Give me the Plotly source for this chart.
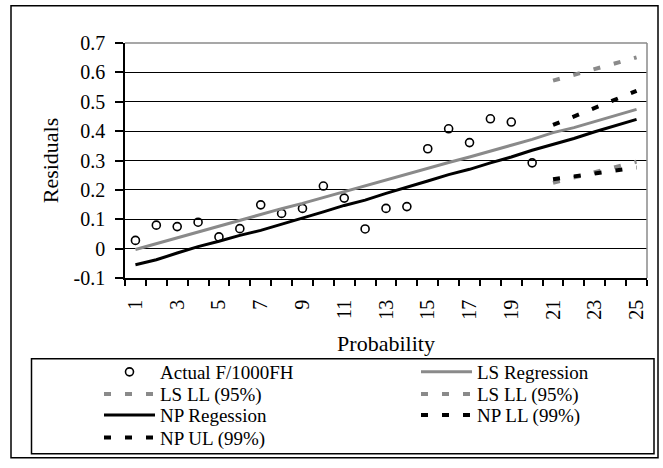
import plotly.graph_objects as go

# ---------------- data ----------------
categories = [1, 2, 3, 4, 5, 6, 7, 8, 9, 10, 11, 12, 13, 14, 15, 16, 17, 18, 19, 20, 21, 22, 23, 24, 25]
actual_categories = [1, 2, 3, 4, 5, 6, 7, 8, 9, 10, 11, 12, 13, 14, 15, 16, 17, 18, 19, 20]
actual_f1000fh = [0.028, 0.080, 0.075, 0.090, 0.040, 0.068, 0.149, 0.120, 0.137, 0.213,
                  0.172, 0.067, 0.137, 0.143, 0.340, 0.408, 0.361, 0.442, 0.431, 0.292]
ls_regression = [-0.003, 0.017, 0.037, 0.058, 0.078, 0.097, 0.116, 0.136, 0.154, 0.174,
                 0.194, 0.214, 0.235, 0.255, 0.274, 0.293, 0.312, 0.331, 0.352, 0.372,
                 0.395, 0.412, 0.432, 0.452, 0.474]
np_regression = [-0.055, -0.038, -0.015, 0.007, 0.025, 0.045, 0.062, 0.083, 0.102, 0.125,
                 0.147, 0.165, 0.188, 0.208, 0.230, 0.252, 0.270, 0.292, 0.312, 0.335,
                 0.355, 0.375, 0.398, 0.418, 0.440]
band_categories = [21, 22, 23, 24, 25]
ls_upper_95 = [0.572, 0.592, 0.612, 0.632, 0.651]
ls_lower_95 = [0.224, 0.242, 0.260, 0.278, 0.296]
np_upper_99 = [0.421, 0.450, 0.479, 0.508, 0.537]
np_lower_99 = [0.236, 0.246, 0.256, 0.266, 0.276]

x_tick_vals = [1, 3, 5, 7, 9, 11, 13, 15, 17, 19, 21, 23, 25]
x_tick_labels = ["1", "3", "5", "7", "9", "11", "13", "15", "17", "19", "21", "23", "25"]
y_tick_vals = [-0.1, 0, 0.1, 0.2, 0.3, 0.4, 0.5, 0.6, 0.7]
y_tick_labels = ["-0.1", "0", "0.1", "0.2", "0.3", "0.4", "0.5", "0.6", "0.7"]

GRAY = "#8a8a8a"
FONT = "Liberation Serif"
DASH = "7px,14px"

L, R, T, B = 125, 16, 43, 185
W, H = 663, 468
pw, ph = W - L - R, H - T - B


def px_x(p):
    return (p - L) / pw


def px_y(p):
    return (H - B - p) / ph


# legend slots: (legend id, item start x px, row centre y px)
COL1, COL2 = 99, 416
ROWS = [379, 401.5, 423, 446]

fig = go.Figure()

fig.add_trace(go.Scatter(
    x=actual_categories, y=actual_f1000fh, mode="markers", name="Actual F/1000FH",
    marker=dict(symbol="circle-open", size=8, color="black", line=dict(width=1.6)),
    legend="legend"))
fig.add_trace(go.Scatter(
    x=categories, y=ls_regression, mode="lines", name="LS Regression",
    line=dict(color=GRAY, width=3), legend="legend2"))
fig.add_trace(go.Scatter(
    x=band_categories, y=ls_upper_95, mode="lines", name="LS LL (95%)",
    line=dict(color=GRAY, width=4, dash=DASH), legend="legend3"))
fig.add_trace(go.Scatter(
    x=band_categories, y=ls_lower_95, mode="lines", name="LS LL (95%)",
    line=dict(color=GRAY, width=4, dash=DASH), legend="legend4"))
fig.add_trace(go.Scatter(
    x=categories, y=np_regression, mode="lines", name="NP Regession",
    line=dict(color="black", width=3), legend="legend5"))
fig.add_trace(go.Scatter(
    x=band_categories, y=np_lower_99, mode="lines", name="NP LL (99%)",
    line=dict(color="black", width=4, dash=DASH), legend="legend6"))
fig.add_trace(go.Scatter(
    x=band_categories, y=np_upper_99, mode="lines", name="NP UL (99%)",
    line=dict(color="black", width=4, dash=DASH), legend="legend7"))


def legend_at(xpx, ypx):
    return dict(x=px_x(xpx), y=px_y(ypx), xanchor="left", yanchor="middle",
                bgcolor="rgba(0,0,0,0)", borderwidth=0, itemwidth=51,
                font=dict(family=FONT, size=19, color="black"))


fig.update_layout(
    width=W, height=H, autosize=False,
    margin=dict(l=L, r=R, t=T, b=B),
    paper_bgcolor="white", plot_bgcolor="white",
    font=dict(family=FONT, color="black", size=20),
    showlegend=True,
    legend=legend_at(COL1, ROWS[0]),
    legend2=legend_at(COL2, ROWS[0]),
    legend3=legend_at(COL1, ROWS[1]),
    legend4=legend_at(COL2, ROWS[1]),
    legend5=legend_at(COL1, ROWS[2]),
    legend6=legend_at(COL2, ROWS[2]),
    legend7=legend_at(COL1, ROWS[3]),
    xaxis=dict(
        range=[0.5, 25.5], tickmode="array", tickvals=x_tick_vals, ticktext=x_tick_labels,
        tickangle=-90, ticks="outside", ticklen=12, tickcolor="rgba(0,0,0,0)",
        showgrid=False, zeroline=False, showline=True, linecolor="black", linewidth=1.5,
        tickfont=dict(family=FONT, size=20),
        minor=dict(tickmode="linear", tick0=0.5, dtick=1, ticks="outside", ticklen=6,
                   tickwidth=1.5, tickcolor="black", showgrid=False),
        title=dict(text="Probability", font=dict(family=FONT, size=22), standoff=17),
    ),
    yaxis=dict(
        range=[-0.1, 0.7], tickmode="array", tickvals=y_tick_vals, ticktext=y_tick_labels,
        ticks="outside", ticklen=8, tickwidth=1.5, tickcolor="black",
        showgrid=True, gridcolor="black", gridwidth=1.3, zeroline=False,
        showline=True, linecolor="black", linewidth=1.5,
        tickfont=dict(family=FONT, size=20), ticklabelstandoff=6,
        title=dict(text="Residuals", font=dict(family=FONT, size=22), standoff=9),
    ),
    shapes=[
        # plot area top / right border (gray)
        dict(type="line", xref="paper", yref="paper", x0=0, x1=1, y0=1, y1=1,
             line=dict(color=GRAY, width=1.5), layer="above"),
        dict(type="line", xref="paper", yref="paper", x0=1, x1=1, y0=0, y1=1,
             line=dict(color=GRAY, width=1.5), layer="above"),
        # outer chart border
        dict(type="rect", xref="paper", yref="paper",
             x0=px_x(11), x1=px_x(658), y0=px_y(466.5), y1=px_y(5),
             line=dict(color="black", width=1.5), fillcolor="rgba(0,0,0,0)", layer="above"),
        # legend box
        dict(type="rect", xref="paper", yref="paper",
             x0=px_x(31.5), x1=px_x(654), y0=px_y(462.5), y1=px_y(365.5),
             line=dict(color="black", width=1.5), fillcolor="rgba(0,0,0,0)", layer="above"),
    ],
)

fig.write_html("out.html", config={"responsive": False})
